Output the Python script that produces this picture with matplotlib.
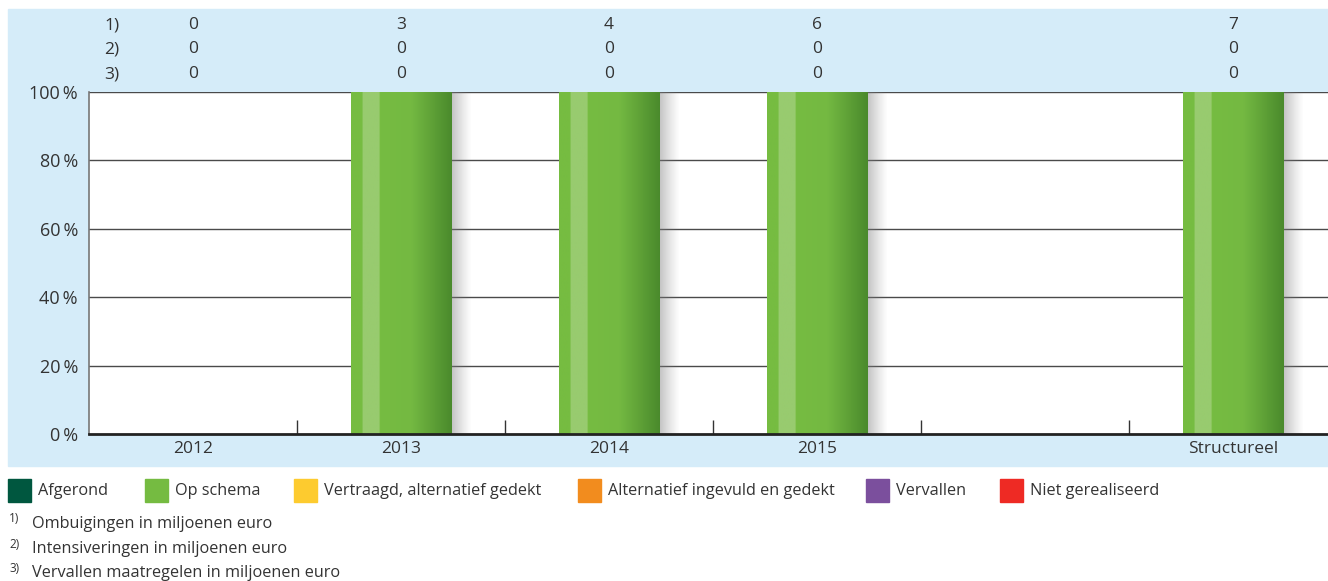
import numpy as np
import matplotlib
matplotlib.use('Agg')
import matplotlib.pyplot as plt
from matplotlib.patches import Rectangle
from matplotlib.colors import to_rgb

# data
categories = ['2012', '2013', '2014', '2015', '', 'Structureel']
op_schema = [0, 100, 100, 100, 0, 100]
ombuigingen = ['0', '3', '4', '6', '', '7']
intensiveringen = ['0', '0', '0', '0', '', '0']
vervallen_mln = ['0', '0', '0', '0', '', '0']
row_labels = ['1)', '2)', '3)']
yticks = [0, 20, 40, 60, 80, 100]

legend_labels = ['Afgerond', 'Op schema', 'Vertraagd, alternatief gedekt',
                 'Alternatief ingevuld en gedekt', 'Vervallen', 'Niet gerealiseerd']
legend_colors = ['#00573f', '#75bb41', '#fdcb2f', '#f28c1e', '#7b4f9d', '#ee2a24']
footnotes = ['Ombuigingen in miljoenen euro', 'Intensiveringen in miljoenen euro',
             'Vervallen maatregelen in miljoenen euro']

plt.rcParams['font.family'] = ['Open Sans', 'DejaVu Sans']
txt = '#333333'

W, H = 1328, 581
fig = plt.figure(figsize=(W / 100, H / 100), dpi=100)

def px(x0, y0, x1, y1):
    return [x0 / W, 1 - y1 / H, (x1 - x0) / W, (y1 - y0) / H]

# blue panel behind the chart
fig.patches.append(Rectangle((8 / W, 1 - 466 / H), (W - 8) / W, (466 - 9) / H,
                             transform=fig.transFigure, color='#d5ecf9', zorder=-1))

ax = fig.add_axes(px(89, 92, 1337, 434))
ax.set_zorder(1)
ax.set_facecolor('white')
n = len(categories)
x = np.arange(n)

for y in yticks[1:]:
    ax.axhline(y, color='#4a4a4a', lw=1.0, zorder=1)

bw = 0.485
# bar colour profile (left -> right)
stops = [(0.0, '#76bc41'), (0.11, '#76bc41'), (0.115, '#98cb6f'), (0.28, '#98cb6f'),
         (0.285, '#76bc41'), (0.6, '#74b942'), (1.0, '#4a8a2c')]
cols = np.linspace(0, 1, 200)
pos = [s[0] for s in stops]
rgb = np.array([to_rgb(s[1]) for s in stops])
grad = np.stack([np.interp(cols, pos, rgb[:, k]) for k in range(3)], axis=-1)[None, :, :]
shadow = np.zeros((1, 50, 4))
shadow[..., :3] = 0.5
shadow[0, :, 3] = np.linspace(0.55, 0.0, 50) ** 1.2

for xi, v in zip(x, op_schema):
    if v <= 0:
        continue
    ax.imshow(shadow, extent=(xi + bw / 2, xi + bw / 2 + 0.1, 0, v), aspect='auto',
              interpolation='bilinear', zorder=2)
    ax.imshow(grad, extent=(xi - bw / 2, xi + bw / 2, 0, v), aspect='auto',
              interpolation='bilinear', zorder=3)
ax.set_xlim(-0.5, n - 0.5)
ax.set_ylim(0, 100)

for s in ['top', 'right']:
    ax.spines[s].set_visible(False)
ax.spines['left'].set_color('#777777')
ax.spines['left'].set_linewidth(1.2)
ax.spines['bottom'].set_color('#222222')
ax.spines['bottom'].set_linewidth(2)
ax.spines['bottom'].set_zorder(5)

ax.set_xticks(x)
ax.set_xticklabels(categories, fontsize=12.5, color=txt)
ax.tick_params(axis='x', length=0, pad=5)
ax.set_xticks(x[:-1] + 0.5, minor=True)
ax.tick_params(axis='x', which='minor', direction='in', length=10, width=1, color='#333333')
ax.set_yticks(yticks)
ax.set_yticklabels([f'{v}\u2009%' for v in yticks], fontsize=13, color=txt)
ax.tick_params(axis='y', length=0, pad=8)

# header rows with amounts
rows = [ombuigingen, intensiveringen, vervallen_mln]
row_y = [25, 49, 74]
for lab, vals, yy in zip(row_labels, rows, row_y):
    yf = 1 - yy / H
    fig.text(112 / W, yf, lab, fontsize=12.5, color=txt, ha='center', va='center')
    for xi, v in zip(x, vals):
        xd = ax.transData.transform((xi, 0))[0]
        fig.text(xd / W, yf, v, fontsize=12.5, color=txt, ha='center', va='center')

# legend
sq_x = [8, 145, 294, 578, 866, 1000]
for sx, lab, c in zip(sq_x, legend_labels, legend_colors):
    fig.patches.append(Rectangle((sx / W, 1 - 502 / H), 23 / W, 23 / H,
                                 transform=fig.transFigure, color=c))
    fig.text((sx + 30) / W, 1 - 491 / H, lab, fontsize=11.7, color=txt, va='center')

# footnotes
for i, (fy, ft) in enumerate(zip([524, 549, 573], footnotes)):
    fig.text(9 / W, 1 - (fy - 5) / H, f'{i + 1})', fontsize=8.5, color=txt, va='center')
    fig.text(32 / W, 1 - fy / H, ft, fontsize=11.7, color=txt, va='center')

fig.savefig('out.png', dpi=100)
